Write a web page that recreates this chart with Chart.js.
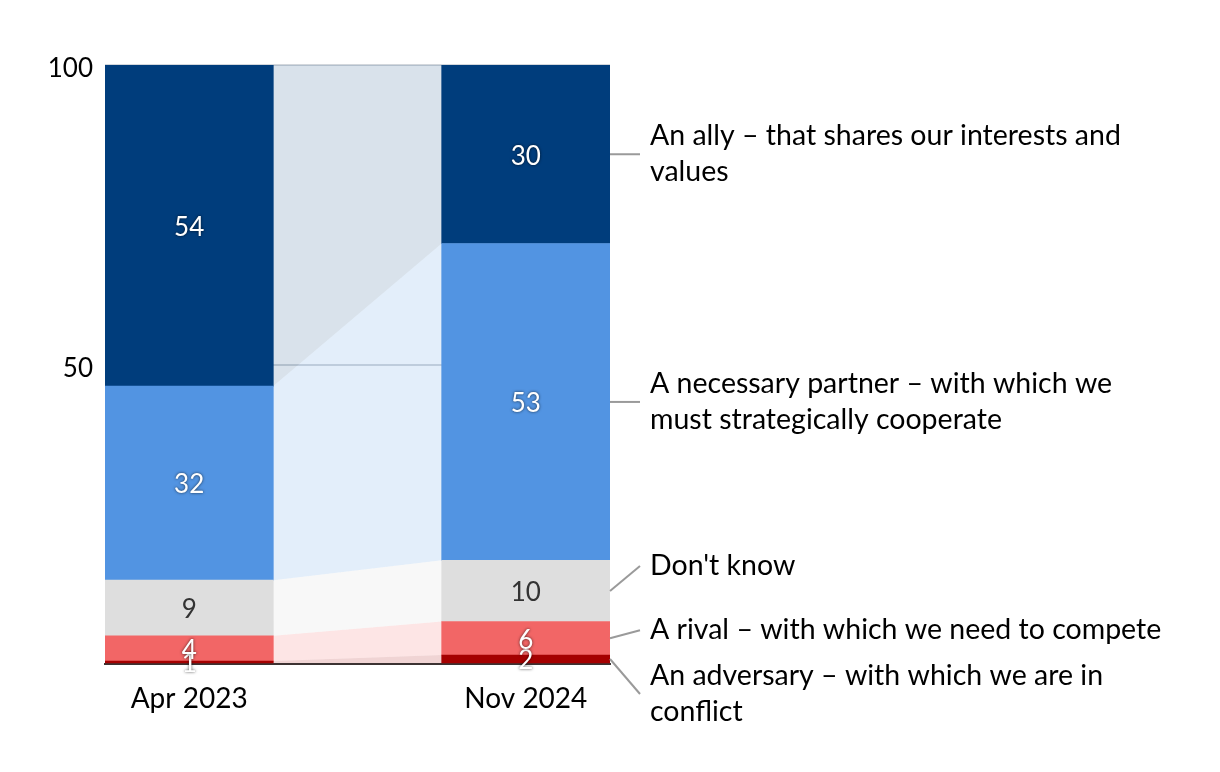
<!DOCTYPE html>
<html>
<head>
<meta charset="utf-8">
<script src="https://cdn.jsdelivr.net/npm/chart.js@4"></script>
<style>
  html, body { margin: 0; padding: 0; background: #fff; }
  #wrap { width: 1220px; height: 772px; }
</style>
</head>
<body>
<div id="wrap"><canvas id="chart"></canvas></div>
<script>
// Categories (middle slot is the gap where the bands are drawn)
const categories = ['Apr 2023', '', 'Nov 2024'];

// Series values, bottom of the stack first
const adversary = [0.5, null, 1.5];
const rival = [4.2, null, 5.6];
const dontKnow = [9.3, null, 10.2];
const partner = [32.4, null, 52.9];
const ally = [53.6, null, 29.8];

const seriesNames = [
    ['An adversary – with which we are in', 'conflict'],
    ['A rival – with which we need to compete'],
    ["Don't know"],
    ['A necessary partner – with which we', 'must strategically cooperate'],
    ['An ally – that shares our interests and', 'values']
];

const yTicks = [0, 50, 100];

// Colours
const barColors = ['#a50000', '#f26666', '#dedede', '#5294e2', '#003d7c'];
const bandColors = [
    'rgba(165,0,0,0.17)',
    'rgba(242,102,102,0.17)',
    'rgba(222,222,222,0.22)',
    'rgba(82,148,226,0.16)',
    'rgba(0,61,124,0.15)'
];
const valueColors = ['#fff', '#fff', '#333', '#fff', '#fff'];

// Where the right-hand labels sit relative to the middle of the last bar segment
const labelShift = [35, -8, -25, 0, 0];

const FONT = 'Lato, "Noto Sans", sans-serif';

// Bands between the two bars
const bandPlugin = {
    id: 'bands',
    beforeDatasetsDraw(chart) {
        const ctx = chart.ctx;
        chart.data.datasets.forEach((ds, i) => {
            const meta = chart.getDatasetMeta(i);
            const a = meta.data[0];
            const b = meta.data[2];
            const ax = a.x + a.width / 2;
            const bx = b.x - b.width / 2;
            ctx.save();
            ctx.fillStyle = bandColors[i];
            ctx.beginPath();
            ctx.moveTo(ax, a.y);
            ctx.lineTo(bx, b.y);
            ctx.lineTo(bx, b.base);
            ctx.lineTo(ax, a.base);
            ctx.closePath();
            ctx.fill();
            ctx.restore();
        });
    }
};

// Value labels inside bars and series labels on the right
const labelPlugin = {
    id: 'labels',
    afterDatasetsDraw(chart) {
        const ctx = chart.ctx;
        ctx.save();
        ctx.textAlign = 'center';
        ctx.textBaseline = 'middle';
        ctx.font = '26px ' + FONT;
        chart.data.datasets.forEach((ds, i) => {
            const meta = chart.getDatasetMeta(i);
            [0, 2].forEach(j => {
                const el = meta.data[j];
                const v = ds.data[j];
                ctx.save();
                if (valueColors[i] === '#fff') {
                    ctx.shadowColor = 'rgba(0,0,0,0.7)';
                    ctx.shadowBlur = 3;
                }
                ctx.fillStyle = valueColors[i];
                ctx.fillText(String(Math.round(v)), el.x, (el.y + el.base) / 2 + 2);
                ctx.restore();
            });
        });

        // series names with connector lines
        ctx.textAlign = 'left';
        ctx.font = '28.5px ' + FONT;
        chart.data.datasets.forEach((ds, i) => {
            const el = chart.getDatasetMeta(i).data[2];
            const x0 = el.x + el.width / 2;
            const y0 = (el.y + el.base) / 2;
            const y1 = y0 + labelShift[i];
            ctx.strokeStyle = '#9a9a9a';
            ctx.lineWidth = 2;
            ctx.beginPath();
            ctx.moveTo(x0, y0);
            ctx.lineTo(x0 + 30, y1);
            ctx.stroke();
            const lines = seriesNames[i];
            const lh = 36;
            ctx.fillStyle = '#000';
            lines.forEach((t, k) => {
                ctx.fillText(t, x0 + 40, y1 + (k - (lines.length - 1) / 2) * lh);
            });
        });
        ctx.restore();
    }
};

const datasets = [adversary, rival, dontKnow, partner, ally].map((d, i) => ({
    label: seriesNames[i].join(' '),
    data: d,
    backgroundColor: barColors[i],
    borderWidth: 0,
    barPercentage: 1,
    categoryPercentage: 1
}));

new Chart(document.getElementById('chart'), {
    type: 'bar',
    data: { labels: categories, datasets: datasets },
    options: {
        responsive: true,
        maintainAspectRatio: false,
        animation: false,
        layout: { padding: { top: 65, right: 610, bottom: 0, left: 0 } },
        plugins: {
            legend: { display: false },
            tooltip: { enabled: false }
        },
        scales: {
            x: {
                stacked: true,
                z: 1,
                grid: { display: false },
                border: { display: true, color: '#3c3232', width: 2 },
                ticks: { color: '#000', font: { size: 28, family: FONT }, padding: 10 },
                afterFit(s) { s.height = 108; }
            },
            y: {
                stacked: true,
                min: 0,
                max: 100,
                afterBuildTicks(s) { s.ticks = yTicks.map(v => ({ value: v })); },
                grid: {
                    color: ctx => ctx.tick && ctx.tick.value === 0 ? 'rgba(0,0,0,0)' : '#d3d7dc',
                    lineWidth: 2,
                    drawTicks: false
                },
                border: { display: false },
                ticks: {
                    color: '#000',
                    padding: 12,
                    labelOffset: 4,
                    font: { size: 26, family: FONT },
                    callback: v => v === 0 ? '' : v
                },
                afterFit(s) { s.width = 105; }
            }
        }
    },
    plugins: [bandPlugin, labelPlugin]
});
</script>
</body>
</html>
